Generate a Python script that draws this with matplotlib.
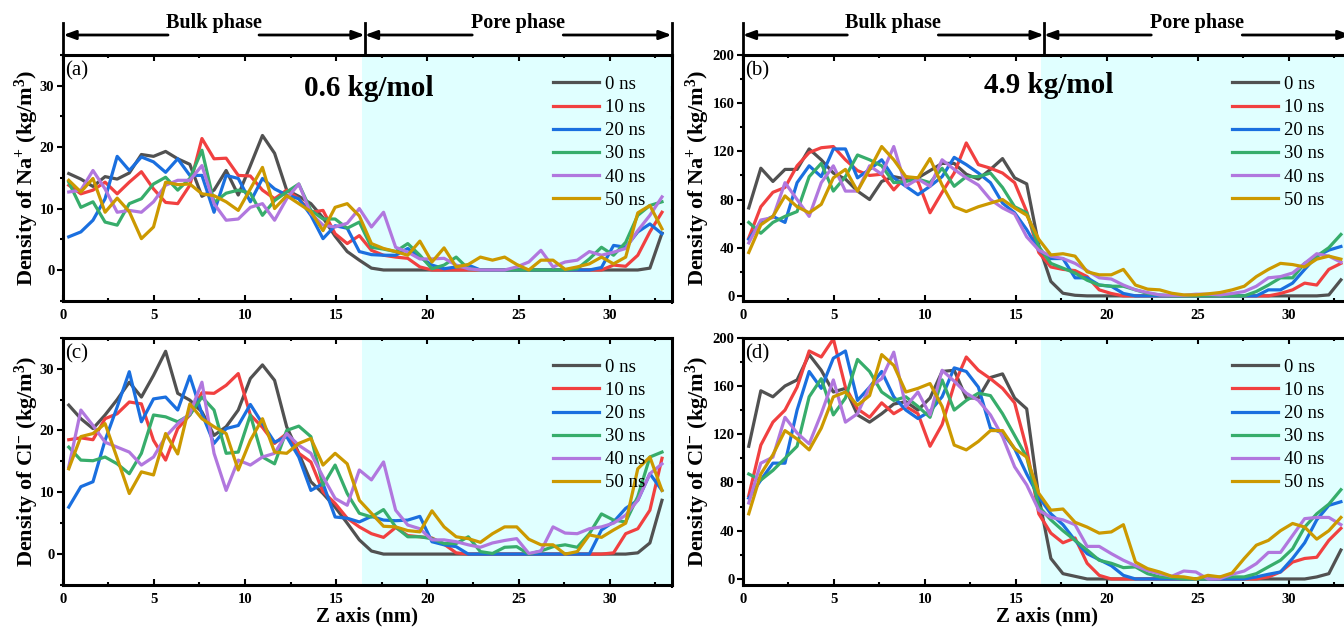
import numpy as np
import matplotlib
matplotlib.use("Agg")
import matplotlib.pyplot as plt
from matplotlib.lines import Line2D
from matplotlib.patches import FancyArrowPatch
from matplotlib.ticker import MultipleLocator

plt.rcParams['font.family'] = ['Liberation Serif', 'DejaVu Serif']
plt.rcParams['mathtext.default'] = 'regular'

# bin centres along the box (nm), 50 slabs
z = np.linspace(0.332, 32.868, 50)

times = ["0 ns", "10 ns", "20 ns", "30 ns", "40 ns", "50 ns"]
colors = ["#515151", "#F14040", "#1A6FDF", "#37AD6B", "#B177DE", "#CC9900"]

# Na+ density, 0.6 kg/mol
na06_0 = [15.7, 14.8, 13.6, 15.2, 14.8, 15.8, 18.8, 18.5, 19.3, 18.1,
          17.2, 12.0, 13.0, 16.2, 12.2, 17.0, 21.9, 19.0, 13.0, 12.0,
          10.8, 8.5, 5.5, 3.0, 1.6, 0.3, 0, 0, 0, 0,
          0, 0, 0, 0, 0, 0, 0, 0, 0, 0,
          0, 0, 0, 0, 0, 0, 0, 0, 0.3, 6.0]
na06_10 = [13.8, 12.4, 13.0, 14.3, 12.4, 14.3, 16.0, 13.2, 11.0, 10.8,
           13.8, 21.4, 18.1, 18.2, 15.4, 15.3, 13.0, 11.6, 13.0, 11.6,
           9.4, 9.7, 5.9, 4.3, 5.6, 3.2, 2.4, 2.1, 1.9, 0.5,
           0, 0, 0, 0, 0, 0, 0, 0, 0, 0,
           0, 0, 0, 0, 0, 0.8, 0.6, 2.4, 6.2, 9.4]
na06_20 = [5.4, 6.2, 8.1, 11.6, 18.5, 16.2, 18.4, 17.6, 15.9, 18.1,
           15.4, 15.4, 9.4, 15.4, 14.9, 11.1, 14.9, 13.2, 12.2, 11.6,
           8.9, 5.1, 7.2, 6.8, 3.0, 2.5, 2.4, 2.4, 3.5, 2.1,
           0.8, 0.2, 0.5, 0.8, 0, 0, 0, 0, 0, 0,
           0, 0, 0, 0, 0.4, 4.0, 3.7, 6.2, 7.5, 5.9]
na06_30 = [14.3, 10.2, 11.1, 7.8, 7.3, 10.8, 11.6, 14.0, 15.1, 13.0,
           14.9, 19.5, 11.0, 12.5, 13.0, 12.5, 8.9, 11.3, 12.7, 14.0,
           9.7, 8.3, 8.3, 6.8, 7.8, 3.7, 3.4, 3.0, 4.3, 2.4,
           0.2, 0.8, 2.1, 0.2, 0, 0, 0, 0, 0, 0,
           0, 0, 0.2, 1.8, 3.7, 2.4, 4.5, 8.9, 10.5, 11.1]
na06_40 = [12.7, 13.0, 16.2, 13.2, 9.4, 9.7, 9.4, 11.1, 13.8, 14.6,
           14.6, 17.0, 10.8, 8.1, 8.3, 10.2, 10.8, 8.1, 11.6, 14.0,
           9.2, 7.3, 7.0, 7.6, 10.0, 7.0, 9.4, 3.7, 2.9, 1.8,
           1.8, 1.9, 0.8, 0.2, 0, 0, 0, 0.5, 1.3, 3.2,
           0.5, 1.3, 1.6, 3.0, 2.4, 2.9, 3.5, 6.4, 8.9, 11.9]
na06_50 = [14.6, 12.7, 14.9, 9.4, 11.7, 9.5, 5.1, 7.0, 14.3, 13.9,
           14.0, 12.4, 12.1, 11.1, 9.7, 13.2, 16.7, 10.0, 12.1, 10.8,
           9.5, 6.4, 10.2, 10.8, 8.8, 4.3, 3.5, 3.0, 2.4, 4.7,
           1.3, 3.6, 0.5, 0.9, 2.1, 1.6, 2.1, 0.9, 0, 1.6,
           1.6, 0.1, 0.5, 1.0, 2.1, 1.0, 2.1, 9.3, 10.5, 6.7]

# Cl- density, 0.6 kg/mol
cl06_0 = [24.1, 21.9, 20.3, 22.5, 25.0, 27.8, 25.4, 28.9, 32.8, 26.0,
          24.9, 23.0, 19.2, 20.6, 23.3, 28.4, 30.6, 28.1, 20.6, 16.3,
          11.7, 9.8, 7.6, 5.0, 2.3, 0.5, 0, 0, 0, 0,
          0, 0, 0, 0, 0, 0, 0, 0, 0, 0,
          0, 0, 0, 0, 0, 0, 0, 0.2, 1.8, 8.7]
cl06_10 = [18.5, 18.8, 18.5, 21.9, 22.7, 24.6, 24.3, 18.4, 15.2, 20.3,
           22.5, 26.1, 26.0, 27.3, 29.2, 22.5, 20.5, 17.9, 19.5, 16.3,
           14.9, 10.1, 8.2, 5.8, 4.4, 3.3, 2.7, 4.3, 3.0, 2.8,
           2.6, 1.6, 0.2, 0, 0, 0, 0, 0, 0, 0,
           0, 0, 0, 0, 0, 0.2, 3.3, 4.1, 7.1, 15.5]
cl06_20 = [7.6, 10.9, 11.7, 18.4, 23.8, 29.5, 21.4, 25.1, 25.4, 23.3,
           28.8, 22.7, 17.9, 20.3, 20.8, 24.2, 21.1, 18.1, 19.0, 15.7,
           10.3, 11.4, 6.0, 5.8, 5.2, 6.1, 5.5, 5.4, 5.5, 6.1,
           2.0, 1.5, 1.2, 0, 0, 0, 0, 0, 0, 0,
           0, 0, 0, 0, 3.9, 5.2, 7.4, 8.7, 13.0, 10.3]
cl06_30 = [17.3, 15.2, 15.1, 15.7, 14.6, 13.0, 16.3, 22.5, 22.2, 21.4,
           22.5, 25.4, 23.3, 16.3, 16.5, 22.5, 15.7, 14.6, 20.0, 20.7,
           19.0, 11.1, 14.4, 9.8, 6.6, 6.0, 7.2, 4.4, 2.8, 2.8,
           2.5, 1.7, 1.7, 2.8, 0.4, 0.1, 1.1, 1.2, 0.0, 0.5,
           1.2, 1.5, 1.1, 3.3, 6.5, 5.5, 5.2, 9.3, 15.7, 16.5]
cl06_40 = [14.1, 23.3, 20.8, 18.1, 17.3, 16.5, 14.4, 15.7, 19.0, 21.1,
           22.7, 27.8, 16.3, 10.3, 15.2, 14.4, 15.7, 16.3, 19.5, 17.6,
           16.3, 12.5, 9.0, 7.9, 13.6, 12.0, 14.9, 7.1, 4.7, 4.1,
           2.3, 2.3, 2.0, 1.5, 1.1, 1.8, 2.2, 2.5, 0.1, 0.5,
           4.4, 3.4, 3.3, 4.1, 4.4, 5.0, 6.3, 8.7, 13.0, 14.6]
cl06_50 = [13.8, 19.0, 19.5, 21.1, 15.5, 9.8, 13.3, 12.8, 19.5, 16.2,
           24.3, 21.9, 20.6, 19.5, 13.6, 18.4, 21.9, 16.5, 16.3, 17.9,
           18.7, 14.4, 16.3, 14.6, 8.7, 6.6, 4.5, 4.4, 3.8, 3.6,
           7.0, 4.4, 2.8, 2.5, 1.9, 3.3, 4.4, 4.4, 2.4, 1.5,
           1.5, 0, 0.4, 3.1, 2.7, 3.9, 5.0, 13.8, 15.7, 10.3]

# Na+ density, 4.9 kg/mol
na49_0 = [73, 106, 95, 105, 105, 122, 113, 102, 97, 87,
          80, 95, 99, 97, 98, 104, 110, 110, 101, 97,
          105, 114, 98, 93, 42, 12, 2.2, 0.5, 0, 0,
          0, 0, 0, 0, 0, 0, 0, 0, 0, 0,
          0, 0, 0, 0, 0, 0, 0, 0, 0.8, 13.3]
na49_10 = [48, 74, 86, 90, 108, 119, 123, 124, 113, 104,
           100, 101, 88, 99, 95, 69, 86, 102, 127, 109,
           106, 102, 94, 70, 36, 24, 22, 21, 16, 5,
           2, 0, 0, 0, 0, 0, 0, 0, 0, 0,
           0, 0, 0, 0, 2, 5, 10.6, 9, 22, 27]
na49_20 = [47, 61, 66, 61, 94, 108, 99, 122, 122, 98,
           105, 113, 98, 91, 84, 91, 99, 115, 109, 102,
           94, 77, 69, 55, 38, 31, 31, 15, 15, 9,
           8, 2, 0, 0, 0, 0, 0, 0, 0, 0,
           0, 0, 0, 5, 5, 10.6, 22, 33, 38, 41]
na49_30 = [61, 52, 61, 66, 70, 99, 110, 87, 99, 117,
           113, 108, 94, 95, 97, 94, 106, 91, 99, 99,
           102, 90, 74, 69, 41, 27, 23, 19, 13, 9,
           8, 8, 5, 2, 0.8, 0, 0, 0, 0, 0,
           0, 0, 3.6, 9, 15, 15, 27, 33, 40, 51]
na49_40 = [44, 63, 65, 94, 80, 66, 94, 108, 87, 87,
           108, 101, 124, 91, 97, 91, 113, 105, 98, 92,
           80, 73, 68, 49, 38, 33, 31, 27, 21, 15,
           14, 9, 5, 2.8, 0.8, 0.5, 0.5, 1.4, 1.4, 0.8,
           2, 3.6, 8, 15, 16, 19, 27, 35, 33, 28]
na49_50 = [36, 59, 66, 83, 74, 69, 76, 98, 105, 87,
           105, 124, 113, 99, 98, 114, 92, 74, 70, 74,
           77, 80, 73, 67, 47, 34, 35, 33, 20, 17.5,
           17.5, 22, 9, 5.6, 5, 2.2, 0.8, 0.8, 1.7, 2.8,
           5, 8, 16, 22, 27, 26, 24, 30.5, 33, 30.5]

# Cl- density, 4.9 kg/mol
cl49_0 = [110, 156, 151, 160, 165, 186, 173, 155, 158, 136,
          130, 137, 145, 147, 140, 150, 172, 173, 150, 150,
          167, 170, 150, 141, 68, 17, 4.4, 2.2, 0, 0,
          0, 0, 0, 0, 0, 0, 0, 0, 0, 0,
          0, 0, 0, 0, 0, 0, 0, 1.7, 4.4, 24]
cl49_10 = [69, 111, 130, 140, 159, 189, 184, 199, 159, 141,
           134, 146, 137, 143, 137, 110, 128, 161, 184, 173,
           166, 158, 146, 108, 54, 38, 30, 34, 13, 3,
           0, 0, 0, 0, 0, 0, 0, 0, 0, 0,
           0, 0, 0, 1.7, 5.8, 14, 17, 18, 32, 42]
cl49_20 = [67, 82, 96, 96, 140, 172, 158, 183, 189, 148,
           159, 172, 151, 140, 133, 139, 151, 175, 172, 159,
           125, 121, 108, 87, 68, 54, 45, 32, 21, 16,
           11, 3, 0, 0, 0, 0, 0, 0, 0, 0,
           0, 0, 1.7, 3.9, 5.8, 17, 30, 49, 61, 64]
cl49_30 = [87, 82, 90, 100, 110, 151, 166, 136, 150, 182,
           172, 155, 148, 151, 143, 134, 165, 140, 148, 154,
           152, 137, 119, 101, 60, 49, 40, 32, 24, 15.5,
           13, 9.4, 10, 4.4, 1.7, 1.1, 0, 0, 0, 1.7,
           1.7, 1.7, 4.4, 10, 15.5, 25, 43, 54, 62, 74]
cl49_40 = [63, 96, 101, 134, 121, 112, 137, 165, 130, 137,
           159, 166, 188, 143, 155, 136, 173, 164, 154, 148,
           136, 118, 93, 78, 57, 51, 49, 45, 27, 27,
           21, 15.5, 11, 7, 4.4, 2.2, 6.6, 5.8, 0, 0.3,
           3.9, 6.6, 12.7, 22, 22, 36, 50, 51, 51, 45]
cl49_50 = [54, 87, 103, 123, 116, 107, 125, 151, 155, 144,
           152, 186, 177, 155, 158, 162, 143, 111, 107, 114,
           123, 123, 108, 101, 71, 57, 58, 47, 43, 38,
           39, 45, 14, 8.6, 5.8, 2.2, 1.7, 0, 3, 1.7,
           5, 17, 28, 32, 40, 46, 43, 33, 40, 51]

pore_start = 16.4     # start of shaded pore region (nm)
phase_split = 16.55   # bulk / pore boundary marker (nm)

W, H = 1344, 627
fig = plt.figure(figsize=(W / 100, H / 100), dpi=100)


def add_axes_px(left, top, right, bottom):
    return fig.add_axes([left / W, 1 - bottom / H, (right - left) / W, (bottom - top) / H])


panels = [
    dict(box=(62.7, 55, 671.7, 300.7), data=[na06_0, na06_10, na06_20, na06_30, na06_40, na06_50],
         ylim=(-5, 35), major=10, minor=5, tag="(a)", ylabel="Density of Na$^{+}$ (kg/m$^{3}$)",
         title="0.6 kg/mol", title_y=0.862, xlabel=False, ylab_x=-0.035),
    dict(box=(742.7, 55, 1350.6, 300.7), data=[na49_0, na49_10, na49_20, na49_30, na49_40, na49_50],
         ylim=(-4, 200), major=40, minor=20, tag="(b)", ylabel="Density of Na$^{+}$ (kg/m$^{3}$)",
         title="4.9 kg/mol", title_y=0.877, xlabel=False, ylab_x=-0.05),
    dict(box=(62.7, 337.7, 671.7, 585), data=[cl06_0, cl06_10, cl06_20, cl06_30, cl06_40, cl06_50],
         ylim=(-5, 35), major=10, minor=5, tag="(c)", ylabel="Density of Cl$^{-}$ (kg/m$^{3}$)",
         title=None, xlabel=True, ylab_x=-0.035),
    dict(box=(742.7, 337.7, 1350.6, 585), data=[cl49_0, cl49_10, cl49_20, cl49_30, cl49_40, cl49_50],
         ylim=(-5, 200), major=40, minor=20, tag="(d)", ylabel="Density of Cl$^{-}$ (kg/m$^{3}$)",
         title=None, xlabel=True, ylab_x=-0.05),
]

for p in panels:
    ax = add_axes_px(*p["box"])
    ax.axvspan(pore_start, 40, color="#E0FFFF", lw=0, zorder=0)
    for series, lab, col in zip(p["data"], times, colors):
        ax.plot(z, series, color=col, lw=2.3, label=lab, zorder=2)
    ax.set_xlim(0, 33.4)
    ax.set_ylim(*p["ylim"])
    ax.xaxis.set_major_locator(MultipleLocator(5))
    ax.xaxis.set_minor_locator(MultipleLocator(2.5))
    ax.yaxis.set_major_locator(MultipleLocator(p["major"]))
    ax.yaxis.set_minor_locator(MultipleLocator(p["minor"]))
    for s in ax.spines.values():
        s.set_linewidth(2.2)
    ax.tick_params(which="both", top=True, right=True, width=1.5, labelsize=10.5)
    ax.tick_params(axis="x", which="both", direction="in", pad=6)
    ax.tick_params(axis="y", which="both", left=True, direction="out", pad=2)
    ax.tick_params(which="major", length=4)
    ax.tick_params(which="minor", length=2.5)
    # right-side ticks point inward
    for t in ax.yaxis.get_major_ticks() + ax.yaxis.get_minor_ticks():
        t.tick2line.set_marker(3)
    for lbl in ax.get_xticklabels() + ax.get_yticklabels():
        lbl.set_fontweight("bold")
    ax.set_ylabel(p["ylabel"], fontsize=16, fontweight="bold")
    ax.yaxis.set_label_coords(p["ylab_x"], 0.5)
    if p["xlabel"]:
        ax.set_xlabel("Z axis (nm)", fontsize=15, fontweight="bold")
        ax.xaxis.set_label_coords(0.5, -0.085)
    ax.text(0.004, 0.935, p["tag"], transform=ax.transAxes,
            ha="left", va="center", fontsize=15)
    if p["title"]:
        ax.text(0.503, p["title_y"], p["title"], transform=ax.transAxes, ha="center",
                va="center", fontsize=21, fontweight="bold")
    ax.legend(loc="upper left", bbox_to_anchor=(0.805, 0.915), frameon=False,
              handlelength=2.45, handletextpad=0.3, labelspacing=0.32,
              borderaxespad=0, borderpad=0, prop=dict(size=13.5))


def phase_bar(x0, x1, label):
    xc = (x0 + x1) / 2
    fig.text(xc / W, 1 - 23 / H, label, ha="center", va="center",
             fontsize=14.5, fontweight="bold")
    y = 1 - 35 / H
    for start, end in ((xc - 46, x0), (xc + 45, x1)):
        fig.add_artist(FancyArrowPatch((start / W, y), (end / W, y), transform=fig.transFigure,
                                       arrowstyle="-|>,head_length=0.6,head_width=0.22",
                                       mutation_scale=12, lw=2, color="k",
                                       shrinkA=0, shrinkB=0))


def marker_line(x):
    fig.add_artist(Line2D([x / W, x / W], [1 - 23 / H, 1 - 55 / H],
                          transform=fig.transFigure, color="k", lw=2))


# bulk / pore phase bars over the top panels
for left, right in ((63.3, 671.7), (742.7, 1350.6)):
    split = left + (right - left) * phase_split / 33.4
    phase_bar(left, split, "Bulk phase")
    phase_bar(split, right, "Pore phase")
    for x in (left, split, right):
        marker_line(x)

fig.savefig("out.png", dpi=100)
